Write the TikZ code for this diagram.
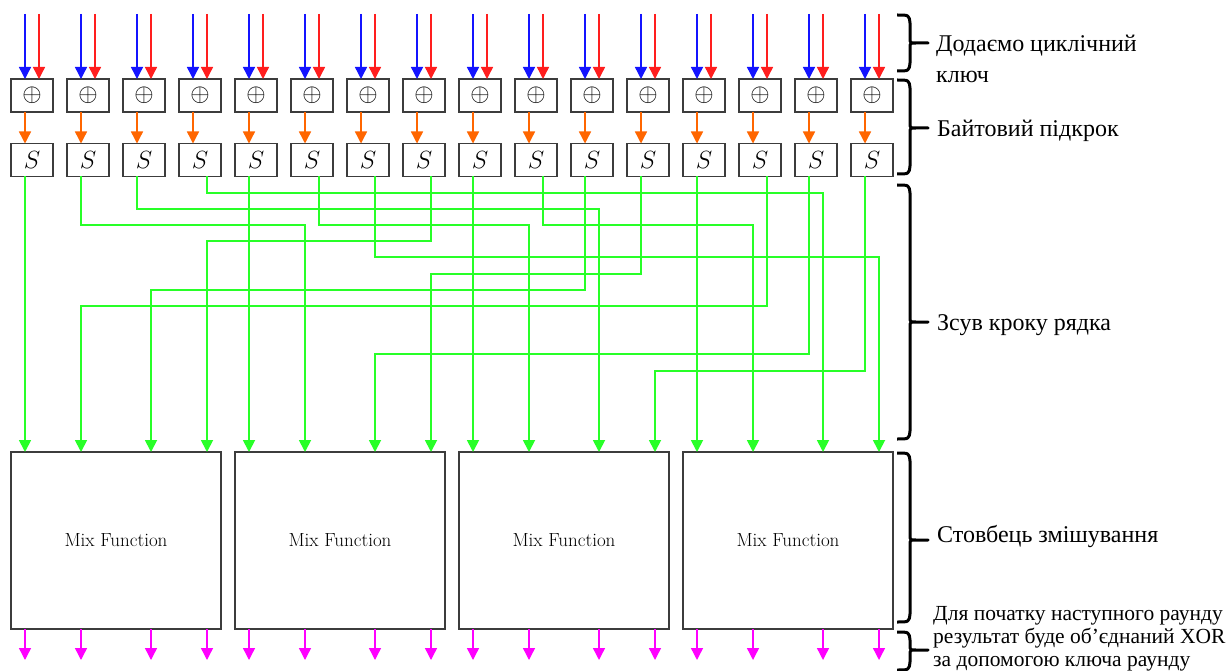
\documentclass[tikz,border=0pt]{standalone}
\usepackage{amsmath,amssymb}
\usepackage{fontspec}
\usepackage{xcolor}
\usepackage{tikz}
\usetikzlibrary{arrows.meta,positioning}
\newfontfamily\labelfont{Liberation Serif}
\definecolor{keyblue}{RGB}{20,20,255}
\definecolor{keyred}{RGB}{255,30,30}
\definecolor{suborange}{RGB}{255,102,0}
\definecolor{wiregreen}{RGB}{40,255,40}
\definecolor{outmag}{RGB}{255,0,255}
\definecolor{boxgray}{RGB}{60,60,60}
% curly brace at the right edge: top, middle, bottom
\newcommand\stagebrace[3]{%
  \draw[brace] (897,#1) .. controls (909,#1) .. (910,{#1+8}) -- (910,{#2-5})
    .. controls (910,#2) .. (916,#2) -- (928,#2) -- (916,#2)
    .. controls (910,#2) .. (910,{#2+5}) -- (910,{#3-8})
    .. controls (909,#3) .. (897,#3);}

\begin{document}
\begin{tikzpicture}[x=1pt,y=-1pt,
    cell/.style={draw=boxgray,line width=1.2pt,minimum width=42pt,minimum height=33pt,inner sep=0pt,outer sep=0pt,font=\fontsize{23}{23}\selectfont},
    mixbox/.style={draw=boxgray,line width=1.2pt,minimum width=210pt,minimum height=177pt,inner sep=0pt,outer sep=0pt,font=\fontsize{19}{19}\selectfont},
    tip/.style={line width=1.4pt,-{Triangle[width=12pt,length=12pt]}},
    wire/.style={tip,line width=1.8pt,wiregreen},
    brace/.style={line width=3pt,line join=round},
    lab/.style={align=left,inner sep=0pt,font=\labelfont\fontsize{24}{31}\selectfont},
    smalllab/.style={align=left,inner sep=0pt,font=\labelfont\fontsize{21.5}{23}\selectfont}]
  \useasboundingbox[fill=white] (0,0) rectangle (1231,671);
  % key addition and byte substitution
  \foreach \i in {0,...,15}{
    \node[cell] (x\i) at ({32+56*\i},95.5) {$\oplus$};
    \node[cell] (s\i) at ({32+56*\i},160) {$S$};
    \coordinate (kb\i) at ({25+56*\i},14);
    \coordinate (kr\i) at ({39+56*\i},14);
    \draw[tip,keyblue] (kb\i) -- (kb\i |- x\i.north);
    \draw[tip,keyred] (kr\i) -- (kr\i |- x\i.north);
    \draw[tip,suborange] (x\i.south -| kb\i) -- (s\i.north -| kb\i);
  }
  % mix columns
  \foreach \c in {0,...,3}{
    \node[mixbox] (m\c) at ({116+224*\c},540.5) {Mix Function};
    \foreach \r/\dx in {0/14,1/70,2/140,3/196}{
      \pgfmathtruncatemacro\j{4*\c+\r}
      \coordinate (d\j) at ({11+224*\c+\dx},452);
      \draw[tip,outmag] (d\j |- m\c.south) -- ++(0,31);
    }
  }
  % shift rows
  \foreach \i/\o/\ly/\d in {0/14/300/0,1/14/225/5,2/14/209/10,3/28/193/14,
      4/14/300/4,5/28/225/9,6/28/257/15,7/28/241/3,8/14/300/8,9/28/225/13,
      10/14/290/2,11/14/274/7,12/14/300/12,13/28/306/1,14/14/354/6,15/14/371/11}{
    \coordinate (o\i) at ([xshift=\o pt]s\i.south west);
    \draw[wire] (o\i) -- ++(0,{\ly-176.5}) -| (d\d);
  }
  % braces and labels
  \stagebrace{15}{43}{71}
  \stagebrace{80}{128}{174}
  \stagebrace{185}{322}{439}
  \stagebrace{453}{540}{622}
  \stagebrace{632}{650}{670}
  \node[lab,anchor=base west] (l1) at (936,83) {Додаємо циклічний\\ключ};
  \node[lab,anchor=base west] (l2) at (937,137) {Байтовий підкрок};
  \node[lab,anchor=base west] (l3) at (937,330) {Зсув кроку рядка};
  \node[lab,anchor=base west] (l4) at (937,542) {Стовбець змішування};
  \node[smalllab,anchor=base west] (l5) at (933,666) {Для початку наступного раунду\\результат буде об’єднаний XOR\\за допомогою ключа раунду};
\end{tikzpicture}
\end{document}
